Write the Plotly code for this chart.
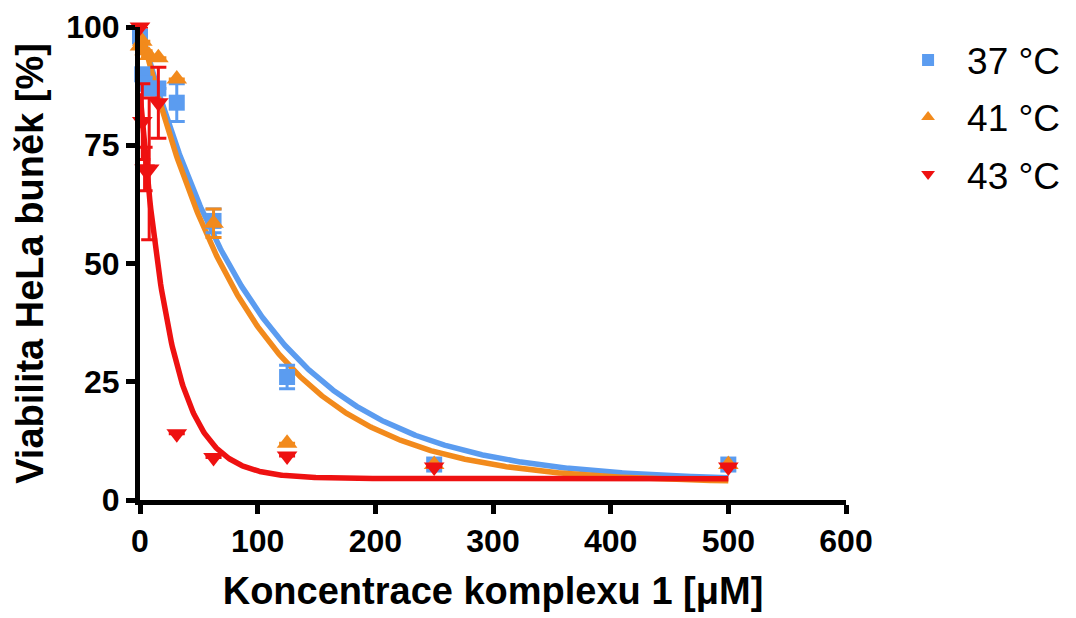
import numpy as np
import plotly.graph_objects as go

# ---- data ----
conc = [0, 1.95, 3.9, 7.8, 15.6, 31.25, 62.5, 125, 250, 500]

v37 = [98, 90, 88, 87, 87, 84, 59, 26, 7.5, 7.5]
e37 = [0, 0, 0, 0, 0, 4, 2.5, 2.5, 0, 0]

v41 = [96, 97, 95, 94, 93.5, 89, 58.5, 12, 7.5, 7.5]
e41 = [0, 0, 0, 0, 0, 0, 3, 0, 0, 0]

v43 = [100, 80, 70, 70, 84, 14, 9, 9.3, 7, 7]
e43 = [0, 8, 4.6, 15, 7.5, 0, 0, 0, 0, 0]

# one-phase decay fit parameters (Y0, plateau, k)
fit37 = dict(y0=100, plateau=4.0, k=0.0098)
fit41 = dict(y0=100, plateau=3.6, k=0.0107)
fit43 = dict(y0=86, plateau=4.5, k=0.039)

names = ["37 °C", "41 °C", "43 °C"]
colors = ["#5b9cf0", "#f28a1c", "#ee1111"]
symbols = ["square", "triangle-up", "triangle-down"]
msizes = [16, 18, 18]

x_ticks = [0, 100, 200, 300, 400, 500, 600]
y_ticks = [0, 25, 50, 75, 100]

FONT = "Liberation Sans"

fig = go.Figure()

xs = np.linspace(0, 500, 600)
fits = [fit37, fit41, fit43]
vals = [v37, v41, v43]
errs = [e37, e41, e43]

# fitted curves
for f, c in zip(fits, colors):
    ys = f["plateau"] + (f["y0"] - f["plateau"]) * np.exp(-f["k"] * xs)
    fig.add_trace(go.Scatter(x=xs, y=ys, mode="lines",
                             line=dict(color=c, width=5.5),
                             showlegend=False, hoverinfo="skip",
                             cliponaxis=False))

# data points with error bars
for i, (name, v, e, c, s, ms) in enumerate(zip(names, vals, errs, colors, symbols, msizes)):
    fig.add_trace(go.Scatter(
        x=conc, y=v, mode="markers", name=name, legendgroup=f"g{i}",
        marker=dict(symbol=s, size=ms, color=c),
        error_y=dict(type="data", array=e, visible=True,
                     color=c, thickness=3, width=8),
        cliponaxis=False))

# page body has an 8px default margin, so the figure is sized to fit the window
fig.update_layout(
    width=1068, height=610,
    margin=dict(l=132, r=230, t=19, b=118, autoexpand=False),
    plot_bgcolor="white", paper_bgcolor="white",
    font=dict(family=FONT, color="black"),
    legend=dict(x=1.061, y=0.995, xanchor="left", yanchor="top",
                font=dict(size=37, family=FONT, color="black"),
                itemsizing="constant", itemwidth=68, tracegroupgap=6,
                bgcolor="rgba(0,0,0,0)"),
)

fig.update_xaxes(
    range=[0, 600], tickvals=x_ticks, ticktext=[str(t) for t in x_ticks],
    showgrid=False, zeroline=False, automargin=False,
    showline=True, linewidth=5, linecolor="black",
    ticks="outside", ticklen=9, tickwidth=5, tickcolor="black",
    tickfont=dict(size=32, family=FONT, weight="bold"),
    title=dict(text="<b>Koncentrace komplexu 1 [μM]</b>",
               font=dict(size=38, family=FONT), standoff=20),
)
fig.update_yaxes(
    range=[0, 100], tickvals=y_ticks, ticktext=[str(t) for t in y_ticks],
    showgrid=False, zeroline=False, automargin=False,
    showline=True, linewidth=5, linecolor="black",
    ticks="outside", ticklen=9, tickwidth=5, tickcolor="black",
    tickfont=dict(size=32, family=FONT, weight="bold"),
    title=dict(text="<b>Viabilita HeLa buněk [%]</b>",
               font=dict(size=38, family=FONT), standoff=12),
)

fig.write_html("out.html")
